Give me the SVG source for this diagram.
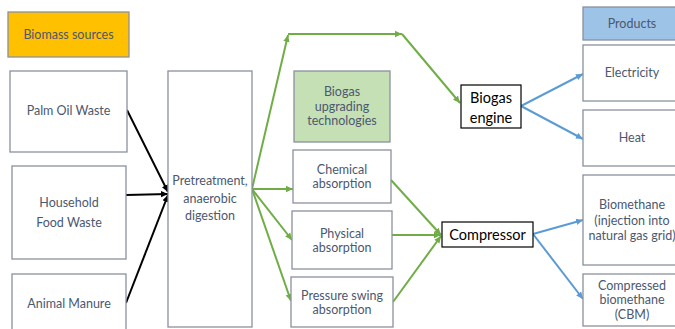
<svg xmlns="http://www.w3.org/2000/svg" width="675" height="329" viewBox="0 0 675 329">
<style>
.box{fill:#ffffff;stroke:#8a919d;stroke-width:1.3}
.t{font-family:Lato,"Liberation Sans",sans-serif;font-size:12.5px;fill:#4b5870;text-anchor:middle}
.tb{font-family:Lato,"Liberation Sans",sans-serif;font-size:14.5px;fill:#000;text-anchor:middle}
.k{stroke:#000;stroke-width:2;fill:none;marker-end:url(#ak)}
.g{stroke:#70ad47;stroke-width:2;fill:none;marker-end:url(#ag)}
.b{stroke:#5b9bd5;stroke-width:2;fill:none;marker-end:url(#ab)}
</style>
<defs>
<marker id="ak" markerUnits="userSpaceOnUse" markerWidth="8" markerHeight="8" refX="7" refY="4" orient="auto"><path d="M0,0.8 L7,4 L0,7.2 z" fill="#000"/></marker>
<marker id="ag" markerUnits="userSpaceOnUse" markerWidth="8" markerHeight="8" refX="7" refY="4" orient="auto"><path d="M0,0.8 L7,4 L0,7.2 z" fill="#70ad47"/></marker>
<marker id="ab" markerUnits="userSpaceOnUse" markerWidth="8" markerHeight="8" refX="7" refY="4" orient="auto"><path d="M0,0.8 L7,4 L0,7.2 z" fill="#5b9bd5"/></marker>
</defs>
<rect width="675" height="329" fill="#fff"/>
<g id="connectors">
<line class="k" x1="127" y1="110" x2="168" y2="192"/>
<line class="k" x1="126" y1="195" x2="168" y2="194"/>
<line class="k" x1="126" y1="303" x2="168" y2="195"/>
<line class="g" x1="252" y1="189" x2="288" y2="35"/>
<line class="g" x1="288" y1="34" x2="402" y2="34"/>
<line class="g" x1="402" y1="34" x2="460" y2="103"/>
<line class="g" x1="252" y1="189" x2="293" y2="189"/>
<line class="g" x1="252" y1="189" x2="292" y2="240"/>
<line class="g" x1="252" y1="189" x2="291" y2="301"/>
<line class="g" x1="391" y1="180" x2="441" y2="235"/>
<line class="g" x1="392" y1="235" x2="441" y2="235"/>
<line class="g" x1="393" y1="302" x2="441" y2="236"/>
<line class="b" x1="521" y1="106" x2="583" y2="74"/>
<line class="b" x1="521" y1="106" x2="583" y2="139"/>
<line class="b" x1="533" y1="234" x2="583" y2="220"/>
<line class="b" x1="533" y1="234" x2="583" y2="299"/>
</g>
<g id="biomass-sources"><rect x="8" y="12" width="121" height="45" fill="#ffc000" stroke="#8a919d" stroke-width="1.3"/><text class="t" x="68.5" y="38.5">Biomass sources</text></g>
<g id="palm-oil-waste"><rect class="box" x="10" y="71" width="117" height="81"/><text class="t" x="68.5" y="115">Palm Oil Waste</text></g>
<g id="household-food-waste"><rect class="box" x="12" y="166" width="114" height="93"/><text class="t" x="69" y="207">Household</text><text class="t" x="69" y="227">Food Waste</text></g>
<g id="animal-manure"><rect class="box" x="12" y="274" width="114" height="60"/><text class="t" x="69" y="308">Animal Manure</text></g>
<g id="pretreatment"><rect class="box" x="168" y="71" width="84" height="256"/><text class="t" x="210" y="185">Pretreatment,</text><text class="t" x="210" y="203">anaerobic</text><text class="t" x="210" y="220">digestion</text></g>
<g id="biogas-upgrading"><rect x="294" y="71" width="96" height="71" fill="#c5e0b4" stroke="#8a919d" stroke-width="1.3"/><text class="t" x="342" y="96">Biogas</text><text class="t" x="342" y="111">upgrading</text><text class="t" x="342" y="125">technologies</text></g>
<g id="chemical-absorption"><rect class="box" x="293" y="150" width="98" height="53"/><text class="t" x="342" y="174">Chemical</text><text class="t" x="342" y="188">absorption</text></g>
<g id="physical-absorption"><rect class="box" x="292" y="211" width="100" height="58"/><text class="t" x="342" y="238">Physical</text><text class="t" x="342" y="252">absorption</text></g>
<g id="pressure-swing-absorption"><rect class="box" x="291" y="277" width="102" height="50"/><text class="t" x="342" y="300">Pressure swing</text><text class="t" x="342" y="314">absorption</text></g>
<g id="biogas-engine"><rect x="461" y="85" width="60" height="43" fill="#fff" stroke="#000" stroke-width="1.2"/><text class="tb" x="491" y="103">Biogas</text><text class="tb" x="491" y="123">engine</text></g>
<g id="compressor"><rect x="442" y="222" width="91" height="25" fill="#fff" stroke="#000" stroke-width="1.2"/><text class="tb" x="487.5" y="240">Compressor</text></g>
<g id="products"><rect x="583" y="7" width="100" height="33" fill="#9dc3e6" stroke="#8a919d" stroke-width="1.3"/><text class="t" x="632" y="28">Products</text></g>
<g id="electricity"><rect class="box" x="583" y="45" width="100" height="56"/><text class="t" x="632" y="77">Electricity</text></g>
<g id="heat"><rect class="box" x="583" y="110" width="100" height="56"/><text class="t" x="632" y="142">Heat</text></g>
<g id="biomethane"><rect class="box" x="583" y="175" width="100" height="90"/><text class="t" x="632" y="209">Biomethane</text><text class="t" x="632" y="225">(injection into</text><text class="t" x="632" y="240">natural gas grid)</text></g>
<g id="compressed-biomethane"><rect class="box" x="583" y="274" width="100" height="52"/><text class="t" x="632" y="290">Compressed</text><text class="t" x="632" y="304">biomethane</text><text class="t" x="632" y="319">(CBM)</text></g>
</svg>
